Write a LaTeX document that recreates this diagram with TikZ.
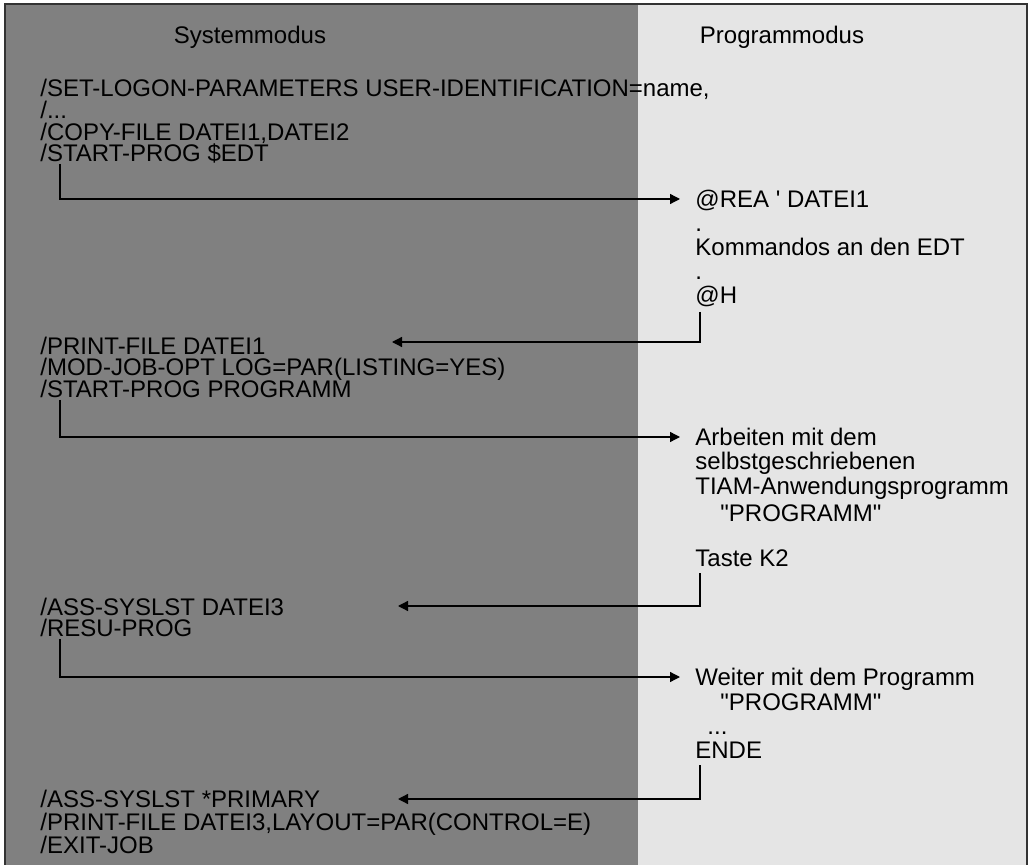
\documentclass[tikz,border=0pt]{standalone}
\usepackage{fontspec}
\setmainfont{Liberation Sans}
\usetikzlibrary{arrows.meta}
\definecolor{sysgray}{HTML}{808080}
\definecolor{proggray}{HTML}{E5E5E5}
\tikzset{
  cmd/.style={inner sep=0pt, anchor=west, text height=8.6pt, text depth=0pt,
              font=\fontsize{12}{13}\selectfont},
  title/.style={cmd, anchor=center},
  flow/.style={line width=0.65pt, -{Triangle[length=5pt,width=5pt]}},
}

\begin{document}
\begin{tikzpicture}[x=0.5pt, y=-0.5pt]
    \useasboundingbox (0,0) rectangle (1032,865);

    % Panels
    \fill[sysgray] (5,4) rectangle (638,865);
    \fill[proggray] (638,4) rectangle (1027,865);
    \draw[line width=1pt, black!80] (5,865) -- (5,4) -- (1027,4) -- (1027,865);

    % Titles
    \node[title] (sysmode) at (250,35) {Systemmodus};
    \node[title] (progmode) at (782,35) {Programmodus};

    % Systemmodus commands
    \node[cmd] (setlogon) at (40,88) {/SET-LOGON-PARAMETERS USER-IDENTIFICATION=name,};
    \node[cmd] (dots) at (40,110) {/...};
    \node[cmd] (copyfile) at (40,132) {/COPY-FILE DATEI1,DATEI2};
    \node[cmd] (startedt) at (40,153) {/START-PROG \$EDT};

    \node[cmd] (printone) at (40,346) {/PRINT-FILE DATEI1};
    \node[cmd] (modjob) at (40,367) {/MOD-JOB-OPT LOG=PAR(LISTING=YES)};
    \node[cmd] (startprog) at (40,389) {/START-PROG PROGRAMM};

    \node[cmd] (asslst) at (40,607) {/ASS-SYSLST DATEI3};
    \node[cmd] (resu) at (40,628) {/RESU-PROG};

    \node[cmd] (assprim) at (40,799) {/ASS-SYSLST *PRIMARY};
    \node[cmd] (printthree) at (40,822) {/PRINT-FILE DATEI3,LAYOUT=PAR(CONTROL=E)};
    \node[cmd] (exitjob) at (40,845) {/EXIT-JOB};

    % Programmodus texts
    \node[cmd] (rea) at (695,199) {@REA \textquotesingle\ DATEI1};
    \node[cmd] (dotone) at (695,223) {.};
    \node[cmd] (kommandos) at (695,247) {Kommandos an den EDT};
    \node[cmd] (dottwo) at (695,271) {.};
    \node[cmd] (edth) at (695,295) {@H};

    \node[cmd] (arbeiten) at (695,437) {Arbeiten mit dem};
    \node[cmd] (selbst) at (695,461) {selbstgeschriebenen};
    \node[cmd] (tiam) at (695,486) {TIAM-Anwendungsprogramm};
    \node[cmd] (progone) at (720,513) {\textquotedbl PROGRAMM\textquotedbl};
    \node[cmd] (taste) at (695,558) {Taste K2};

    \node[cmd] (weiter) at (695,677) {Weiter mit dem Programm};
    \node[cmd] (progtwo) at (720,702) {\textquotedbl PROGRAMM\textquotedbl};
    \node[cmd] (ellipsis) at (707,726) {...};
    \node[cmd] (ende) at (695,750) {ENDE};

    % Arrow tips on the system side
    \coordinate (backone) at (392,342);
    \coordinate (backtwo) at (398,606);
    \coordinate (backthree) at (398,799);

    % Switches
    \draw[flow] ([xshift=10pt,yshift=-1pt]startedt.south west) |- ([xshift=-7.5pt]rea.west);
    \draw[flow] ([xshift=2.5pt,yshift=-4pt]edth.south west) |- (backone);
    \draw[flow] ([xshift=10pt,yshift=-1pt]startprog.south west) |- ([xshift=-7.5pt]arbeiten.west);
    \draw[flow] ([xshift=2.5pt,yshift=-3pt]taste.south west) |- (backtwo);
    \draw[flow] ([xshift=10pt,yshift=-1pt]resu.south west) |- ([xshift=-7.5pt]weiter.west);
    \draw[flow] ([xshift=2.5pt,yshift=-3pt]ende.south west) |- (backthree);
\end{tikzpicture}
\end{document}
